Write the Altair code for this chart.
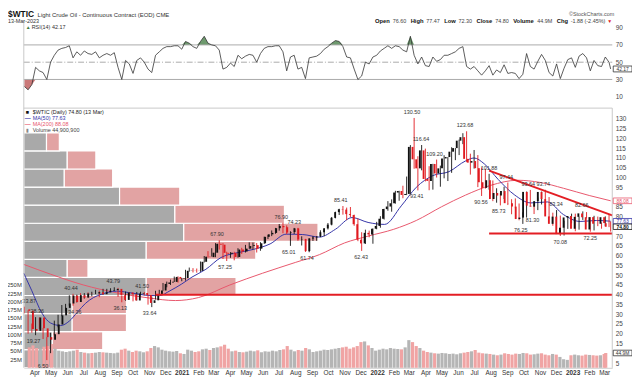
import altair as alt
import numpy as np
import pandas as pd

FONT = "Liberation Sans"

# ---------------- weekly OHLC (Friday) ----------------
high = [33.87, 32.0, 25.24, 28.5, 28.36, 23.0, 18.3, 20.5, 26.7, 29.7, 34.7, 35.3, 39.7,
        40.44, 40.0, 40.8, 40.8, 41.2, 41.5, 42.5, 42.1, 43.0, 43.0, 43.3, 43.79,
        43.5, 39.6, 41.6, 41.3, 41.0, 41.4, 41.5, 41.4, 39.9, 39.0, 42.0, 42.5, 46.0, 46.7, 47.7, 49.3, 49.4,
        48.6, 52.75, 53.9, 53.6, 53.4, 57.0, 59.8, 62.3, 63.8, 66.4, 67.9, 66.4, 62.0,
        61.8, 62.0, 63.8, 64.0, 65.5, 66.8, 66.7, 66.5, 66.9, 69.7, 70.7, 72.9, 74.2, 76.2, 76.9, 75.5,
        72.5, 74.2, 74.23, 69.9, 68.6, 69.0, 70.0, 70.0, 73.0, 74.0, 76.7, 79.8, 82.5, 84.0, 85.41,
        84.6, 84.9, 81.0, 79.0, 72.0, 73.3, 72.8, 73.9, 77.3,
        80.2, 84.0, 87.9, 88.8, 93.2, 93.2, 95.8, 100.5, 116.6, 130.5, 110.9, 116.64,
        114.8, 105.8, 107.0, 109.2, 106.1, 111.4, 110.5, 115.5, 115.1, 119.4, 122.7, 123.68, 112.2,
        114.1, 111.5, 105.2, 104.5, 101.88, 98.5, 94.5, 92.0, 95.3, 97.44, 88.9, 89.3, 86.7, 82.2,
        92.8, 93.64, 86.6, 89.8, 92.8, 93.74, 90.0, 82.0, 83.34, 80.5, 77.9, 80.3, 81.5,
        81.5, 80.0, 82.66, 82.3, 79.7, 80.4, 80.0, 77.0, 80.1, 81.0, 77.47]
low = [30.5, 20.06, 20.5, 19.27, 22.5, 17.3, 6.5, 10.07, 19.2, 23.3, 29.0, 31.5, 34.4,
       34.36, 36.0, 37.1, 38.0, 38.7, 39.2, 40.3, 38.7, 40.0, 41.0, 41.5, 42.0,
       38.9, 36.13, 36.9, 39.2, 36.6, 37.0, 39.6, 39.6, 34.9, 33.64, 37.5, 40.0, 42.0, 43.8, 45.0, 46.5, 46.2,
       46.9, 47.2, 51.8, 51.4, 51.3, 51.7, 56.5, 59.0, 59.5, 59.2, 63.1, 58.3, 57.25,
       58.9, 57.6, 59.0, 60.9, 61.6, 63.5, 63.1, 61.6, 62.5, 66.0, 68.5, 70.0, 71.2, 72.8, 71.5, 71.0,
       65.01, 71.0, 67.6, 65.2, 61.9, 61.74, 67.5, 67.6, 69.5, 70.0, 73.4, 75.5, 79.1, 80.8, 81.0,
       78.2, 79.8, 75.3, 67.4, 62.43, 66.0, 69.4, 66.1, 73.5,
       74.3, 78.5, 83.0, 82.5, 86.6, 88.1, 89.4, 91.0, 91.6, 104.5, 93.41, 103.7,
       98.0, 93.5, 93.8, 100.0, 95.3, 99.6, 98.2, 102.4, 108.9, 111.5, 117.1, 107.9, 101.5,
       104.6, 95.1, 90.56, 94.3, 93.8, 87.9, 87.1, 85.73, 89.0, 85.9, 81.2, 84.3, 78.1, 76.25,
       79.5, 85.5, 81.3, 83.3, 86.2, 84.8, 79.5, 75.3, 73.6, 70.08, 70.3, 73.7, 76.6,
       72.5, 73.3, 78.3, 79.1, 72.25, 72.9, 75.1, 73.8, 75.1, 74.6, 72.3]
close = [31.73, 22.43, 21.51, 28.34, 22.76, 18.27, 16.94, 19.78, 24.74, 29.43, 33.25, 35.49, 39.55,
         36.26, 39.75, 38.49, 40.65, 40.55, 40.59, 41.29, 40.27, 41.22, 42.01, 42.34, 42.97,
         39.77, 37.33, 41.11, 40.25, 37.05, 40.6, 40.88, 39.85, 35.79, 37.14, 40.13, 42.15, 45.53, 46.26, 46.57, 49.1, 48.23,
         48.52, 52.24, 52.36, 52.27, 52.2, 56.85, 59.47, 59.24, 61.5, 66.09, 65.61, 61.42, 60.97,
         61.45, 59.32, 63.13, 62.14, 63.58, 64.9, 65.37, 63.58, 66.32, 69.62, 70.91, 71.64, 74.05, 75.16, 74.56, 71.81,
         72.07, 73.95, 68.28, 68.44, 62.32, 68.74, 69.29, 69.72, 71.97, 73.98, 75.88, 79.35, 82.28, 83.76, 83.57,
         81.27, 80.79, 76.1, 68.15, 66.26, 71.67, 70.86, 73.79, 75.21,
         78.9, 83.82, 85.14, 86.82, 92.31, 93.1, 91.07, 91.59, 115.68, 109.33, 104.7, 113.9,
         99.27, 98.26, 106.95, 102.07, 104.69, 109.77, 110.49, 113.23, 115.07, 118.87, 120.67, 109.56, 107.62,
         108.43, 104.79, 97.59, 94.7, 98.62, 89.01, 92.09, 90.77, 93.06, 86.87, 86.79, 85.11, 78.74, 79.49,
         92.64, 85.61, 85.05, 87.9, 92.61, 88.96, 80.08, 76.28, 79.98, 71.02, 74.29, 79.56, 80.26,
         73.77, 79.86, 81.64, 79.68, 73.39, 79.72, 76.34, 76.32, 79.68, 76.68, 74.8]
first_open = 32.5
last_open = 76.60

# average daily volume per week, millions
volume_m = [62, 68, 60, 58, 64, 66, 72, 58, 52, 50, 48, 50, 52,
            55, 48, 46, 44, 45, 46, 48, 47, 46, 45, 44, 46,
            55, 58, 52, 48, 52, 50, 47, 50, 60, 66, 62, 55, 52, 50, 49, 51, 44,
            42, 55, 52, 48, 50, 56, 58, 54, 60, 62, 65, 70, 58,
            50, 52, 48, 47, 49, 52, 50, 53, 47, 50, 49, 52, 50, 54, 56, 66, 55, 50, 54, 52,
            60, 56, 48, 50, 52, 55, 54, 56, 58, 60, 62, 64, 58, 62, 66, 78, 80, 68, 60, 52,
            55, 58, 56, 60, 58, 57, 56, 62, 84, 78, 66, 60,
            52, 48, 46, 44, 43, 45, 44, 42, 43, 41, 44, 46, 48,
            50, 54, 46, 44, 43, 42, 40, 38, 40, 44, 42, 40, 43, 42,
            45, 44, 40, 41, 43, 44, 40, 38, 42, 40, 33, 26, 24,
            38, 40, 38, 37, 40, 39, 38, 37, 38, 42, 44.9]

rsi14 = [22, 18, 24, 44, 40, 38, 30, 50, 58, 64, 66, 67, 69, 55, 62, 58, 63, 60, 59, 62, 55, 58, 60, 58, 61,
         44, 30, 52, 48, 37, 52, 55, 50, 42, 38, 58, 62, 66, 68, 68, 69, 69,
         65, 74, 72, 68, 66,
         74, 80, 72, 70, 69, 64, 42, 44, 49, 45, 58, 54, 57, 59, 58, 50, 60, 66, 68, 68, 69, 69, 62, 40,
         56, 58, 42, 44, 31, 55, 56, 57, 60, 65, 68, 72, 75, 74, 68, 56, 55, 42, 30, 34, 50, 48, 56, 58,
         63, 66, 69, 66, 69, 68, 64, 62, 80, 58, 48, 56, 46, 45, 56, 51, 53, 58, 58, 60, 62, 66, 68, 45, 42,
         45, 40, 35, 40, 46, 35, 41, 38, 47, 37, 38, 37, 31, 36, 60, 45, 42, 51, 59, 52, 38, 34, 48, 31,
         43, 53, 55,
         44, 57, 60, 55, 40, 52, 46, 45, 56, 50, 42.17]

# moving averages read at a few dates
ma50_dates = ["2020-03-12", "2020-03-27", "2020-04-15", "2020-05-01", "2020-05-20", "2020-06-05", "2020-06-20",
              "2020-07-05", "2020-07-20", "2020-08-05", "2020-09-01", "2020-10-01", "2020-11-01", "2020-11-20",
              "2020-12-10", "2021-01-01", "2021-01-20", "2021-02-15", "2021-03-15", "2021-04-15", "2021-05-15",
              "2021-06-15", "2021-07-15", "2021-08-15", "2021-09-15", "2021-10-15", "2021-11-15", "2021-12-15",
              "2022-01-15", "2022-02-15", "2022-03-15", "2022-04-15", "2022-05-15", "2022-06-15", "2022-07-01",
              "2022-07-20", "2022-08-15", "2022-09-15", "2022-10-15", "2022-11-15", "2022-12-15", "2023-01-15",
              "2023-02-15", "2023-03-13"]
ma50_vals = [51.0, 42.0, 30.5, 25.5, 24.2, 26.5, 31.0, 35.5, 38.5, 40.3, 41.8, 40.8, 39.6, 39.5, 42.0,
             45.5, 49.0, 53.0, 59.0, 61.5, 63.2, 66.0, 71.0, 70.8, 69.5, 73.5, 79.5, 77.0,
             76.0, 85.5, 95.0, 101.0, 103.0, 108.5, 110.0, 107.0, 99.0, 91.0, 87.0, 87.5, 81.0,
             77.5, 78.0, 77.63]
ma200_dates = ["2020-03-12", "2020-05-01", "2020-07-01", "2020-09-01", "2020-11-01", "2020-12-20",
               "2021-02-01", "2021-04-01", "2021-06-01", "2021-08-01", "2021-09-15", "2021-11-01",
               "2021-12-15", "2022-02-01", "2022-03-15", "2022-05-01", "2022-06-15", "2022-08-01",
               "2022-09-20", "2022-11-01", "2022-12-15", "2023-02-01", "2023-03-13"]
ma200_vals = [55.5, 50.5, 45.0, 41.0, 38.3, 37.0, 38.5, 45.0, 51.0, 56.5, 60.5, 66.5, 70.0, 73.5,
              78.0, 85.0, 91.0, 96.0, 98.6, 97.5, 94.5, 90.8, 88.08]

# volume-by-price bins
vbp_lo = [2.6, 11.85, 21.1, 30.35, 39.6, 48.85, 58.1, 67.35, 76.6, 85.85, 95.1, 104.35, 113.6]
vbp_up = [28, 29, 49, 49, 124, 44, 124, 162, 153, 97, 41, 44, 23]
vbp_down = [3, 51, 55, 55, 91, 21, 111, 136, 111, 61, 49, 29, 13]
vbp_step = 9.25

# labelled highs / lows
hi_text = ["33.87", "28.36", "40.44", "43.79", "41.50", "67.90", "76.90", "74.23", "85.41", "130.50",
           "116.64", "109.20", "123.68", "101.88", "97.44", "93.64", "93.74", "83.34", "82.66"]
hi_date = ["2020-03-22", "2020-04-06", "2020-06-08", "2020-08-26", "2020-10-19", "2021-03-08", "2021-07-06",
           "2021-07-30", "2021-10-25", "2022-03-07", "2022-03-24", "2022-04-18", "2022-06-14", "2022-07-29",
           "2022-08-30", "2022-10-10", "2022-11-07", "2022-12-01", "2023-01-18"]
lo_text = ["19.27", "6.50", "34.36", "36.13", "33.64", "57.25", "65.01", "61.74", "62.43", "93.41",
           "90.56", "85.73", "76.25", "81.30", "70.08", "72.25"]
lo_date = ["2020-03-30", "2020-04-17", "2020-06-15", "2020-09-08", "2020-11-02", "2021-03-23", "2021-07-20",
           "2021-08-23", "2021-12-02", "2022-03-16", "2022-07-14", "2022-08-16", "2022-09-26", "2022-10-18",
           "2022-12-09", "2023-02-03"]

# drawn lines
line40 = {"d1": "2020-11-13", "d2": "2023-03-16", "p": 40}
trend = {"d1": "2022-07-29", "p1": 103.5, "d2": "2023-03-16", "p2": 80.6}
support = {"d1": "2022-07-29", "d2": "2023-03-16", "p": 71.3}
vol_ticks = [25, 50, 75, 100, 125, 150, 175, 200, 225, 250]
price_ticks = [5, 15, 20, 25, 30, 35, 40, 45, 50, 55, 60, 65, 70, 80, 85, 95, 100, 105, 110, 115, 120, 125, 130]
rsi_ticks = [10, 30, 50, 70, 90]

# ---------------- frames ----------------
dates = pd.date_range("2020-03-13", periods=157, freq="7D").strftime("%Y-%m-%d").tolist() + ["2023-03-13"]
opens = [first_open] + close[:-1]
opens[-1] = last_open
df = pd.DataFrame({"date": dates, "open": opens, "high": high, "low": low, "close": close,
                   "vol": volume_m, "rsi": rsi14})
df["dir"] = np.where(df["close"] >= df["open"], "up", "down")

ma50 = pd.DataFrame({"date": ma50_dates, "v": ma50_vals})
ma200 = pd.DataFrame({"date": ma200_dates, "v": ma200_vals})

rows = []
for lo, u, d in zip(vbp_lo, vbp_up, vbp_down):
    rows.append({"lo": lo, "hi": lo + vbp_step, "x0": 0, "x1": u, "k": "up"})
    rows.append({"lo": lo, "hi": lo + vbp_step, "x0": u, "x1": u + d, "k": "down"})
vbp = pd.DataFrame(rows)

hi_df = pd.DataFrame({"date": hi_date, "t": hi_text, "v": [float(t) for t in hi_text]})
lo_df = pd.DataFrame({"date": lo_date, "t": lo_text, "v": [float(t) for t in lo_text]})

# ---------------- scales ----------------
XS = alt.Scale(domain=[alt.DateTime(year=2020, month=3, date=12), alt.DateTime(year=2023, month=3, date=16)],
               range=[16, 612], nice=False)
YP = alt.Scale(domain=[0, 140], range=[367.1, 90.2], nice=False, zero=False)
YV = alt.Scale(domain=[0, 1000], range=[362, 28.67], nice=False, zero=False)
YR = alt.Scale(domain=[0, 100], range=[96.25, 8.75], nice=False, zero=False)
XV = alt.Scale(domain=[0, 600], range=[16, 616], nice=False, zero=False)


def X(field="date", axis=None):
    return alt.X(f"{field}:T", scale=XS, axis=axis, title=None)


def YPr(field, axis=None):
    return alt.Y(f"{field}:Q", scale=YP, axis=axis, title=None)


UPDN = alt.Scale(domain=["up", "down"], range=["#111111", "#e0191f"])
layers = []

# volume by price
layers.append(alt.Chart(vbp).mark_rect(stroke="white", strokeWidth=1.2).encode(
    x=alt.X("x0:Q", scale=XV, axis=None), x2="x1:Q",
    y=YPr("lo"), y2="hi:Q",
    color=alt.Color("k:N", scale=alt.Scale(domain=["up", "down"], range=["#a9a9a9", "#e2a3a3"]), legend=None)))

# volume bars
layers.append(alt.Chart(df).mark_bar(size=3.2).encode(
    x=X(), y=alt.Y("vol:Q", scale=YV, axis=None),
    color=alt.Color("dir:N", scale=alt.Scale(domain=["up", "down"], range=["#b5b5b5", "#f0a4a4"]), legend=None)))

# moving averages
layers.append(alt.Chart(ma200).mark_line(color="#e8566c", strokeWidth=1, interpolate="monotone").encode(
    x=X(), y=YPr("v")))
layers.append(alt.Chart(ma50).mark_line(color="#3434a8", strokeWidth=1, interpolate="monotone").encode(
    x=X(), y=YPr("v")))

# candles
x_axis = alt.Axis(orient="bottom", tickCount={"interval": "month", "step": 1},
                  labelExpr="month(datum.value) == 0 ? timeFormat(datum.value, '%Y') : timeFormat(datum.value, '%b')",
                  labelFontWeight={"condition": {"test": "month(datum.value) == 0", "value": "bold"}, "value": "normal"},
                  labelFontSize=6.5, labelFont=FONT, labelColor="#333", labelOverlap=False, labelPadding=2,
                  ticks=False, domain=True, domainColor="#cccccc", grid=False, labelBound=False, labelFlush=False)
p_axis = alt.Axis(orient="right", values=price_ticks, labelFontSize=6.5, labelFont=FONT, labelColor="#444",
                  ticks=False, domain=False, grid=False, labelPadding=3)
layers.append(alt.Chart(df).mark_rule(strokeWidth=0.9).encode(
    x=X(axis=x_axis), y=YPr("low", axis=p_axis), y2="high:Q",
    color=alt.Color("dir:N", scale=UPDN, legend=None)))
layers.append(alt.Chart(df).mark_bar(size=1.9).encode(
    x=X(), y=YPr("open"), y2="close:Q",
    color=alt.Color("dir:N", scale=UPDN, legend=None)))

# drawn lines
layers.append(alt.Chart(pd.DataFrame([line40])).mark_rule(color="#e31e24", strokeWidth=2).encode(
    x=X("d1"), x2="d2:T", y=YPr("p")))
layers.append(alt.Chart(pd.DataFrame([support])).mark_rule(color="#e31e24", strokeWidth=2).encode(
    x=X("d1"), x2="d2:T", y=YPr("p")))
layers.append(alt.Chart(pd.DataFrame([trend])).mark_rule(color="#e31e24", strokeWidth=2).encode(
    x=X("d1"), x2="d2:T", y=YPr("p1"), y2="p2:Q"))

# high / low labels
layers.append(alt.Chart(hi_df).mark_text(dy=-6, fontSize=5.5, font=FONT, color="#333").encode(
    x=X(), y=YPr("v"), text="t:N"))
layers.append(alt.Chart(lo_df).mark_text(dy=6, fontSize=5.5, font=FONT, color="#333").encode(
    x=X(), y=YPr("v"), text="t:N"))

# left volume labels
layers.append(alt.Chart(pd.DataFrame({"v": vol_ticks, "t": [f"{v}M" for v in vol_ticks]})).mark_text(
    align="right", fontSize=6, font=FONT, color="#333").encode(
    x=alt.value(14), y=alt.Y("v:Q", scale=YV, axis=None), text="t:N"))

# RSI panel
rsi_axis = alt.Axis(orient="right", values=rsi_ticks, labelFontSize=6.5, labelFont=FONT, labelColor="#444",
                    ticks=False, domain=False, grid=False, labelPadding=3)
layers.append(alt.Chart(df).transform_calculate(top="max(datum.rsi, 70)", b="70").mark_area(
    color="#5e8f5e", opacity=0.9).encode(x=X(), y=alt.Y("top:Q", scale=YR, axis=None), y2="b:Q"))
layers.append(alt.Chart(df).transform_calculate(bot="min(datum.rsi, 30)", b="30").mark_area(
    color="#c46a6a", opacity=0.9).encode(x=X(), y=alt.Y("bot:Q", scale=YR, axis=None), y2="b:Q"))
layers.append(alt.Chart(pd.DataFrame({"v": [30, 70]})).mark_rule(color="#aaaaaa", strokeWidth=1).encode(
    x=alt.value(16), x2=alt.value(612), y=alt.Y("v:Q", scale=YR, axis=None)))
layers.append(alt.Chart(pd.DataFrame({"v": [50]})).mark_rule(color="#aaaaaa", strokeWidth=1,
                                                            strokeDash=[6, 2, 1, 2]).encode(
    x=alt.value(16), x2=alt.value(612), y=alt.Y("v:Q", scale=YR, axis=None)))
layers.append(alt.Chart(df).mark_line(color="#333333", strokeWidth=0.8).encode(
    x=X(), y=alt.Y("rsi:Q", scale=YR, axis=rsi_axis, title=None)))


def frame(x1, x2, y1, y2, color="#c8c8c8"):
    return alt.Chart(pd.DataFrame({"a": [0]})).mark_rule(color=color, strokeWidth=1).encode(
        x=alt.value(x1), x2=alt.value(x2), y=alt.value(y1), y2=alt.value(y2))


layers.append(frame(16, 16, 10, 362))
layers.append(frame(612, 612, 99, 362))
layers.append(frame(16, 612, 99, 99))


def txt(s, x, y, size=6, weight="normal", color="#222", align="left"):
    return alt.Chart(pd.DataFrame({"t": [s]})).mark_text(
        align=align, baseline="middle", fontSize=size, fontWeight=weight, color=color, font=FONT).encode(
        text="t:N", x=alt.value(x), y=alt.value(y))


# approximate Arial-like glyph widths (em) to lay out the quote line
GLYPH = {".": .278, " ": .278, "(": .333, ")": .333, "%": .889, "-": .333, "M": .833,
         "O": .778, "p": .611, "e": .556, "n": .611, "H": .722, "i": .278, "g": .611, "h": .611,
         "L": .611, "o": .611, "w": .778, "C": .722, "l": .278, "s": .556, "V": .667, "u": .611, "m": .889}


def text_width(s, size):
    return sum(GLYPH.get(c, .556) for c in s) * size


# header
layers.append(txt("$WTIC", 0, 4, size=8.5, weight="bold", color="#111"))
layers.append(txt("Light Crude Oil - Continuous Contract (EOD) CME", 30, 4.5, size=6, color="#333"))
layers.append(txt("13-Mar-2023", 0, 11, size=5.5, color="#333"))
layers.append(txt("▲", 18, 17, size=5, color="#3d7a3d"))
layers.append(txt("RSI(14) 42.17", 24, 17, size=5.5, color="#333"))
layers.append(txt("©StockCharts.com", 614, 4, size=5.5, color="#555", align="right"))
quote = [("Open", "76.60"), ("High", "77.47"), ("Low", "72.30"), ("Close", "74.80"),
         ("Volume", "44.9M"), ("Chg", "-1.88 (-2.45%)")]
pos = 605
placed = []
for lab, val in reversed(quote):
    wv = text_width(val, 5.5)
    xv = pos - wv
    wl = text_width(lab, 5.9) * 1.05
    xl = xv - 2 - wl
    placed.append((lab, xl, True))
    placed.append((val, xv, False))
    pos = xl - 4.5
for s, x, b in placed:
    layers.append(txt(s, x, 11, size=5.9 if b else 5.5, weight="bold" if b else "normal",
                      color="#111" if b else "#444"))
layers.append(txt("▼", 607, 11, size=5, color="#e0191f"))

# price panel legend
layers.append(txt("■", 18, 103, size=5.5, color="#111"))
layers.append(txt("$WTIC (Daily) 74.80 (13 Mar)", 25, 103, size=5.5, color="#222"))
layers.append(txt("—", 17, 109, size=6, color="#3434a8", weight="bold"))
layers.append(txt("MA(50) 77.63", 25, 109, size=5.5, color="#3434a8"))
layers.append(txt("—", 17, 115, size=6, color="#e8566c", weight="bold"))
layers.append(txt("MA(200) 88.08", 25, 115, size=5.5, color="#e8566c"))
layers.append(txt("▮", 18, 121, size=5.5, color="#888"))
layers.append(txt("Volume 44,900,900", 25, 121, size=5.5, color="#444"))


def vbox(val, label, col, scale, half, weight="normal"):
    d = pd.DataFrame({"v": [val], "lo": [val - half], "hi": [val + half], "t": [label]})
    r = alt.Chart(d).mark_rect(fill="white", stroke=col, strokeWidth=0.8).encode(
        x=alt.value(613), x2=alt.value(632), y=alt.Y("lo:Q", scale=scale, axis=None), y2="hi:Q")
    t = alt.Chart(d).mark_text(fontSize=5, color=col, fontWeight=weight, font=FONT).encode(
        x=alt.value(622.5), y=alt.Y("v:Q", scale=scale, axis=None), text="t:N")
    return [r, t]


layers += vbox(88.08, "88.08", "#e8566c", YP, 1.45)
layers += vbox(77.63, "77.63", "#3434a8", YP, 1.4)
layers += vbox(74.80, "74.80", "#111111", YP, 1.4, weight="bold")
layers += vbox(42.17, "42.17", "#333333", YR, 3.4)
layers += vbox(44.9, "44.9M", "#333333", YV, 8.5)

chart = alt.layer(*layers).resolve_scale(
    x="independent", y="independent", color="independent"
).properties(
    width=612, height=362,
    autosize=alt.AutoSizeParams(type="none"),
    padding={"left": 0, "top": 0, "right": 20, "bottom": 10},
    background="white",
).configure_view(stroke=None)

chart.save("out.html", embed_options={"renderer": "svg", "actions": False})
